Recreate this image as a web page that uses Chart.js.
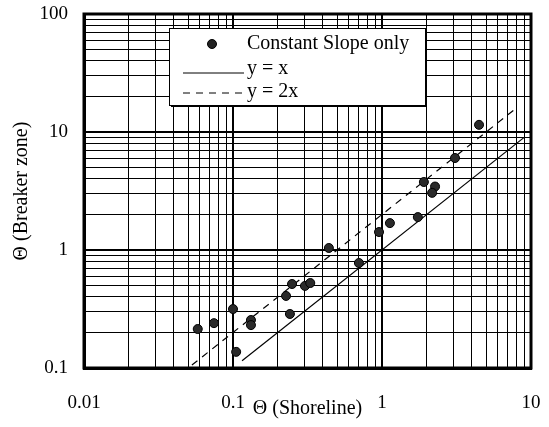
<!DOCTYPE html>
<html>
<head>
<meta charset="utf-8">
<script src="https://cdn.jsdelivr.net/npm/chart.js@4.4.1/dist/chart.umd.min.js"></script>
<style>
  html, body { margin: 0; padding: 0; background: #fff; }
  #wrap { width: 549px; height: 427px; }
</style>
</head>
<body>
<div id="wrap"><canvas id="slope-chart" width="549" height="427"></canvas></div>
<script>
// Theta values
const thetaShoreline = [0.058, 0.0745, 0.1, 0.105, 0.132, 0.132, 0.227, 0.241, 0.249, 0.304, 0.33,
  0.44, 0.70, 0.955, 1.13, 1.74, 1.91, 2.27, 2.17, 3.09, 4.48];
const thetaBreaker = [0.214, 0.24, 0.316, 0.137, 0.255, 0.231, 0.408, 0.287, 0.515, 0.496, 0.525,
  1.04, 0.776, 1.42, 1.69, 1.90, 3.77, 3.45, 3.05, 6.02, 11.5];

// reference lines (end points)
const lineX = [0.115, 9];
const lineY = [0.115, 9];
const line2X = [0.053, 8];
const line2Y = [0.106, 16];

const xDecades = [0.01, 0.1, 1];
const yDecades = [0.1, 1, 10];
const xTickLabels = ['0.01', '0.1', '1', '10'];
const yTickLabels = ['0.1', '1', '10', '100'];

const seriesLabels = ['Constant Slope only', 'y = x', 'y = 2x'];

const FONT = '"Liberation Serif", "Times New Roman", serif';

function logTicks(decades) {
  const out = [];
  decades.forEach(d => {
    for (let m = 1; m <= 9; m++) out.push({ value: +(m * d).toPrecision(3) });
  });
  out.push({ value: decades[decades.length - 1] * 10 });
  return out;
}

function isMajor(v) {
  const l = Math.log10(v);
  return Math.abs(l - Math.round(l)) < 1e-6;
}

function labelFor(v, decades, labels) {
  if (!isMajor(v)) return '';
  const idx = Math.round(Math.log10(v) - Math.log10(decades[0]));
  return labels[idx] || '';
}

// legend box drawn inside the plot, top left
const insideLegend = {
  id: 'insideLegend',
  afterDraw(chart) {
    const ctx = chart.ctx;
    const ds = chart.data.datasets;
    const bx = 169, by = 28, bw = 256, bh = 77;
    ctx.save();
    ctx.fillStyle = '#fff';
    ctx.fillRect(bx, by, bw, bh);
    ctx.strokeStyle = '#000';
    ctx.lineWidth = 1;
    ctx.strokeRect(bx + 0.5, by + 0.5, bw, bh);
    ctx.beginPath();
    ctx.moveTo(bx + bw + 1.5, by + 2);
    ctx.lineTo(bx + bw + 1.5, by + bh + 1.5);
    ctx.lineTo(bx + 2, by + bh + 1.5);
    ctx.stroke();

    ctx.font = '20px ' + FONT;
    ctx.fillStyle = '#000';
    ctx.textBaseline = 'middle';
    ctx.textAlign = 'left';
    const rows = [44, 69, 92];

    // marker row
    ctx.beginPath();
    ctx.arc(212, rows[0], 4.5, 0, Math.PI * 2);
    ctx.fillStyle = '#222';
    ctx.fill();
    ctx.stroke();
    ctx.fillStyle = '#000';
    ctx.fillText(ds[0].label, 247, rows[0]);

    // solid line row
    ctx.beginPath();
    ctx.moveTo(183, rows[1] + 4);
    ctx.lineTo(244, rows[1] + 4);
    ctx.stroke();
    ctx.fillText(ds[1].label, 247, rows[1]);

    // dashed line row
    ctx.setLineDash([7, 6]);
    ctx.beginPath();
    ctx.moveTo(183, rows[2] + 1);
    ctx.lineTo(244, rows[2] + 1);
    ctx.stroke();
    ctx.setLineDash([]);
    ctx.fillText(ds[2].label, 247, rows[2]);
    ctx.restore();
  }
};

// heavy frame round the plot
const plotFrame = {
  id: 'plotFrame',
  afterDatasetsDraw(chart) {
    const a = chart.chartArea;
    const ctx = chart.ctx;
    ctx.save();
    ctx.strokeStyle = '#000';
    ctx.lineWidth = 3;
    ctx.strokeRect(a.left, a.top, a.right - a.left, a.bottom - a.top);
    ctx.restore();
  }
};

const canvas = document.getElementById('slope-chart');
const ctx = canvas.getContext('2d');

new Chart(ctx, {
  type: 'scatter',
  data: {
    datasets: [
      {
        label: seriesLabels[0],
        data: thetaShoreline.map((x, i) => ({ x: x, y: thetaBreaker[i] })),
        backgroundColor: '#2a2a2a',
        borderColor: '#000',
        borderWidth: 1,
        pointRadius: 4.5,
        order: 0
      },
      {
        label: seriesLabels[1],
        type: 'line',
        data: lineX.map((x, i) => ({ x: x, y: lineY[i] })),
        borderColor: '#000',
        borderWidth: 1.2,
        pointRadius: 0,
        fill: false,
        order: 1
      },
      {
        label: seriesLabels[2],
        type: 'line',
        data: line2X.map((x, i) => ({ x: x, y: line2Y[i] })),
        borderColor: '#000',
        borderWidth: 1.2,
        borderDash: [7, 6],
        pointRadius: 0,
        fill: false,
        order: 1
      }
    ]
  },
  options: {
    responsive: false,
    animation: false,
    devicePixelRatio: 1,
    layout: { padding: { top: 14, right: 18, left: 0, bottom: 0 } },
    plugins: {
      legend: { display: false },
      tooltip: { enabled: false }
    },
    scales: {
      x: {
        type: 'logarithmic',
        min: 0.01,
        max: 10,
        afterBuildTicks: scale => { scale.ticks = logTicks(xDecades); },
        afterFit: scale => {
          scale.height = 59;
          scale.paddingLeft = 0;
          scale.paddingRight = 0;
        },
        grid: {
          color: '#000',
          lineWidth: c => (c.tick && isMajor(c.tick.value) ? 2 : 1),
          drawTicks: false
        },
        border: { color: '#000', width: 3 },
        ticks: {
          autoSkip: false,
          maxRotation: 0,
          padding: 24,
          color: '#000',
          font: { family: FONT, size: 19 },
          callback: v => labelFor(v, xDecades, xTickLabels)
        },
        title: {
          display: true,
          text: 'Θ (Shoreline)',
          color: '#000',
          font: { family: FONT, size: 20 },
          padding: { top: 0, bottom: 6 }
        }
      },
      y: {
        type: 'logarithmic',
        min: 0.1,
        max: 100,
        afterBuildTicks: scale => { scale.ticks = logTicks(yDecades); },
        afterFit: scale => {
          scale.width = 84;
          scale.paddingTop = 0;
          scale.paddingBottom = 0;
        },
        grid: {
          color: '#000',
          lineWidth: c => (c.tick && isMajor(c.tick.value) ? 2 : 1),
          drawTicks: false
        },
        border: { color: '#000', width: 3 },
        ticks: {
          autoSkip: false,
          padding: 16,
          color: '#000',
          font: { family: FONT, size: 19 },
          callback: v => labelFor(v, yDecades, yTickLabels)
        },
        title: {
          display: true,
          text: 'Θ (Breaker zone)',
          color: '#000',
          font: { family: FONT, size: 20 },
          padding: { top: 10, bottom: 0 }
        }
      }
    }
  },
  plugins: [plotFrame, insideLegend]
});
</script>
</body>
</html>
